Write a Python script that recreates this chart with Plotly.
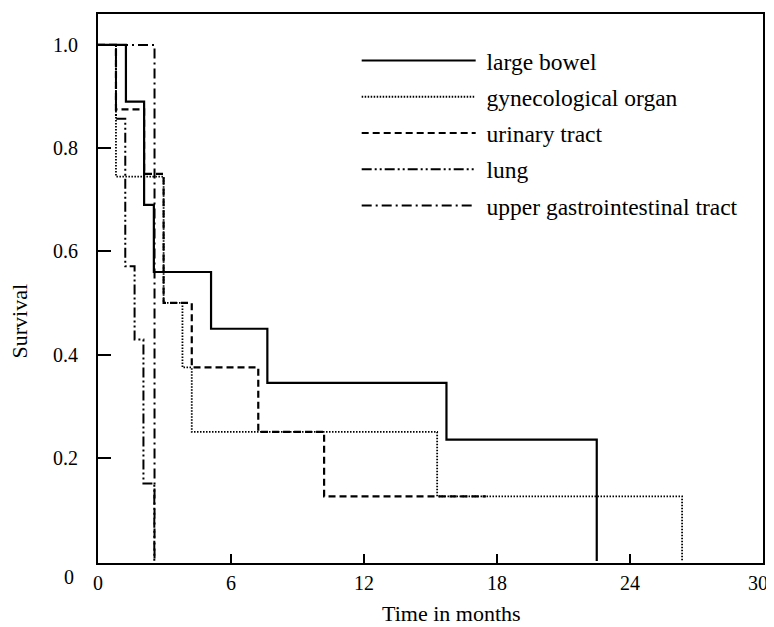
import plotly.graph_objects as go

# Kaplan-Meier step data (time in months, survival)
bowel_t = [0, 1.26, 2.08, 2.52, 5.1, 7.64, 15.72, 22.5]
bowel_s = [1.0, 0.89, 0.69, 0.56, 0.45, 0.345, 0.235, 0.0]

gyn_t = [0, 0.81, 2.96, 3.81, 4.23, 15.3, 26.35]
gyn_s = [1.0, 0.745, 0.5, 0.375, 0.25, 0.125, 0.0]

urinary_t = [0, 0.81, 2.08, 2.96, 4.23, 7.23, 10.2, 17.5]
urinary_s = [1.0, 0.875, 0.75, 0.5, 0.375, 0.25, 0.125, 0.125]

lung_t = [0, 0.81, 1.23, 1.65, 2.05, 2.54]
lung_s = [1.0, 0.857, 0.571, 0.429, 0.15, 0.0]

ugi_t = [0, 2.55]
ugi_s = [1.0, 0.0]

x_ticks = [0, 6, 12, 18, 24]
x_ticklabels = ["0", "6", "12", "18", "24"]
x_last = 30
y_ticks = [0.2, 0.4, 0.6, 0.8, 1.0]
y_ticklabels = ["0.2", "0.4", "0.6", "0.8", "1.0"]

FONT = "Liberation Serif"
NB = "\u00a0"

series = [
    ("large bowel", bowel_t, bowel_s, "solid", 2.2),
    ("gynecological organ", gyn_t, gyn_s, "1.5px,1.5px", 1.8),
    ("urinary tract", urinary_t, urinary_s, "7px,4px", 2.2),
    ("lung", lung_t, lung_s, "10px,3px,2px,3px,2px,3px", 2.0),
    ("upper gastrointestinal tract", ugi_t, ugi_s, "10px,4px,2px,4px", 2.0),
]

fig = go.Figure()
for i, (name, t, s, dash, w) in enumerate(series):
    fig.add_trace(go.Scatter(
        x=t, y=s, mode="lines", name=NB + name, line_shape="hv",
        line=dict(color="black", width=w, dash=dash),
        legendgroup=f"g{i}",
    ))

# The page body adds an 8px offset, so the figure is sized/placed to compensate.
fig.update_layout(
    template="none",
    width=766, height=619,
    margin=dict(l=90, r=10.5, t=6, b=64, pad=0),
    paper_bgcolor="white", plot_bgcolor="white",
    font=dict(family=FONT, color="black", size=20),
    showlegend=True,
    legend=dict(
        x=0.389, y=0.955, xanchor="left", yanchor="top",
        font=dict(family=FONT, size=23.5, color="black"),
        bgcolor="rgba(0,0,0,0)", borderwidth=0, itemwidth=114,
        traceorder="grouped", tracegroupgap=2.7,
    ),
    xaxis=dict(
        range=[0, 30], tickvals=x_ticks, ticktext=x_ticklabels,
        ticks="inside", ticklen=9, tickwidth=2, tickcolor="black",
        showline=True, linewidth=2, linecolor="black", mirror=True,
        showgrid=False, zeroline=False, ticklabelstandoff=1,
        tickfont=dict(family=FONT, size=20), automargin=False,
    ),
    yaxis=dict(
        range=[-0.004, 1.06], tickvals=y_ticks, ticktext=y_ticklabels,
        ticks="inside", ticklen=13, tickwidth=2, tickcolor="black",
        showline=True, linewidth=2, linecolor="black", mirror=True,
        showgrid=False, zeroline=False, ticklabelstandoff=14,
        tickfont=dict(family=FONT, size=20), automargin=False,
    ),
    annotations=[
        dict(text="0", xref="paper", yref="y", x=0, y=0, xanchor="right",
             yanchor="middle", xshift=-22, yshift=-16, showarrow=False,
             font=dict(family=FONT, size=20)),
        dict(text=str(x_last), xref="x", yref="paper", x=x_last, y=0,
             xanchor="center", yanchor="middle", xshift=-5, yshift=-20,
             showarrow=False, font=dict(family=FONT, size=20)),
        dict(text="Time in months", xref="paper", yref="paper", x=0.532, y=0,
             xanchor="center", yanchor="middle", yshift=-50, showarrow=False,
             borderpad=0, font=dict(family=FONT, size=22)),
        dict(text="Survival", xref="paper", yref="paper", x=0, y=0.44,
             xanchor="center", yanchor="middle", xshift=-79, textangle=-90,
             showarrow=False, font=dict(family=FONT, size=22)),
    ],
)

fig.write_html("out.html")
